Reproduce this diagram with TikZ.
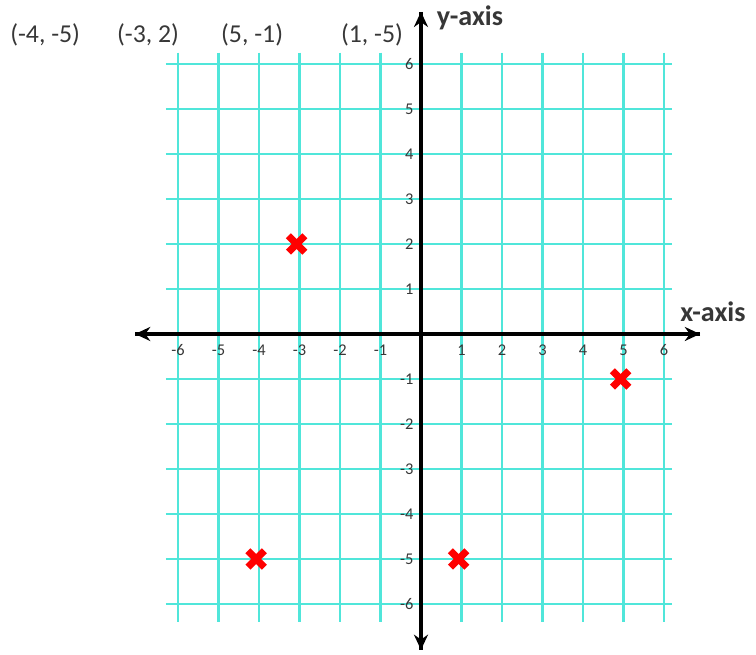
\documentclass[tikz,border=0pt]{standalone}
\usepackage{fontspec}
\setmainfont{Carlito}
\usetikzlibrary{arrows.meta}
\definecolor{gridcyan}{RGB}{80,230,218}
\definecolor{labelgray}{RGB}{55,55,55}
\tikzset{
  gridline/.style={gridcyan,line width=2pt},
  axisline/.style={line width=3.6pt,-{Stealth[length=13pt,width=12pt]}},
  ticklabel/.style={text=labelgray,font=\fontsize{14}{15}\selectfont,inner sep=1pt},
  pointlabel/.style={text=labelgray,font=\fontsize{22}{24}\selectfont},
  axislabel/.style={text=labelgray,font=\fontsize{24}{26}\selectfont\bfseries},
  redcross/.style={red,line width=6pt}
}
\begin{document}
\begin{tikzpicture}[x=1.215cm,y=1.35cm]
  \useasboundingbox (-10.395,-7.133) rectangle (8.272,7.422);
  \foreach \x in {-6,...,6} {
    \draw[gridline] (\x,6.25) -- (\x,-6.4);
  }
  \foreach \y in {-6,...,6} {
    \draw[gridline] (-6.3,\y) -- (6.2,\y);
  }

  \coordinate (xleft) at (-7.06,0);
  \coordinate (xright) at (6.89,0);
  \coordinate (ytop) at (0,7.16);
  \coordinate (ybot) at (0,-7.02);
  \draw[axisline] (xright) -- (xleft);
  \draw[axisline] (xleft) -- (xright);
  \draw[axisline] (ybot) -- (ytop);
  \draw[axisline] (ytop) -- (ybot);

  \foreach \x in {-6,-5,-4,-3,-2,-1,1,2,3,4,5,6} {
    \node[ticklabel] (xt\x) at (\x,-0.36) {\x};
    \node[ticklabel,anchor=east] (yt\x) at (-0.15,\x) {\x};
  }

  \node[axislabel] (xname) at (7.21,0.49) {x-axis};
  \node[axislabel] (yname) at (1.21,7.02) {y-axis};

  \node[pointlabel] (pa) at (-9.28,6.64) {(-4, -5)};
  \node[pointlabel] (pb) at (-6.74,6.64) {(-3, 2)};
  \node[pointlabel] (pc) at (-4.17,6.64) {(5, -1)};
  \node[pointlabel] (pd) at (-1.21,6.64) {(1, -5)};

  \foreach \px/\py in {-4/-5,-3/2,5/-1,1/-5} {
    \draw[redcross] (\px-0.07,\py) ++(-7pt,-7pt) -- ++(14pt,14pt);
    \draw[redcross] (\px-0.07,\py) ++(-7pt,7pt) -- ++(14pt,-14pt);
  }
\end{tikzpicture}
\end{document}
